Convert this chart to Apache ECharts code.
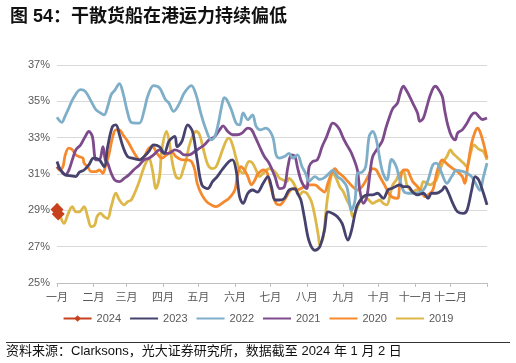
<!DOCTYPE html>
<html><head><meta charset="utf-8">
<script src="https://cdn.jsdelivr.net/npm/echarts@6/dist/echarts.min.js"></script>
<style>html,body{margin:0;padding:0;background:#fff}#c{width:516px;height:363px}</style>
</head><body><div id="c"></div>
<script>
var titleText = '图 54：干散货船在港运力持续偏低';
var sourceText = '资料来源：Clarksons，光大证券研究所，数据截至 2024 年 1 月 2 日';
var monthLabels = ['一月','二月','三月','四月','五月','六月','七月','八月','九月','十月','十一月','十二月'];
var monthDays = [31,28,31,30,31,30,31,31,30,31,30,31];
var yTicks = [25,27,29,31,33,35,37];
var seriesNames = ['2024','2023','2022','2021','2020','2019'];

var d2024 = [0,1];
var v2024 = [29.05,28.8];

var d2023 = [0,3,7,12,16,19,23,27,31,36,40,43,47,50,53,56,60,64,68,70,74,78,82,87,91,95,100,102,106,111,115,119,123,128,132,136,140,146,149,152,155,158,162,166,170,175,179,182,185,189,193,197,202,204,207,210,214,219,223,227,230,234,238,242,247,250,253,255,260,264,268,272,277,281,284,287,291,294,298,302,306,311,315,318,322,327,329,332,336,340,345,348,352,355,358,362,365];
var v2023 = [31.69,31.22,30.95,30.9,30.86,31.1,31.22,31.5,31.87,31.78,31.4,32.5,33.6,33.7,33.16,32.5,31.96,31.87,31.8,31.78,31.96,32.24,32.6,32.5,32.14,32.8,33.07,32.5,32.8,33.7,33.34,31.78,30.4,30.2,30.58,30.86,31.22,31.69,31.78,31.22,29.75,29.38,29.94,30.12,30.0,30.49,30.86,30.3,29.57,29.57,29.66,30.12,30.2,29.95,29.57,28.6,27.3,26.8,26.99,27.9,28.92,28.83,28.65,28.28,27.36,27.9,28.83,29.3,29.75,29.85,29.85,29.94,29.66,30.12,30.2,30.3,30.4,30.3,30.3,30.0,29.85,29.94,29.66,29.94,29.94,30.12,30.3,30.0,29.38,28.92,28.83,29.0,30.12,30.86,30.67,29.94,29.3];

var d2022 = [0,4,7,10,14,20,24,29,33,37,40,43,46,49,53,56,60,63,67,70,74,77,82,87,92,95,99,104,108,114,118,122,126,131,134,137,140,142,144,148,152,155,158,162,166,169,173,177,183,186,189,193,197,200,204,208,211,214,219,223,227,231,234,238,242,246,250,253,255,259,262,265,268,271,276,280,284,288,291,295,300,305,311,315,319,322,326,331,335,339,345,348,352,356,359,362,365];
var v2022 = [34.12,33.84,34.2,34.63,35.18,35.64,35.55,35.0,34.54,34.36,34.25,34.7,35.37,35.6,35.98,35.46,34.36,33.84,33.8,33.8,34.5,35.28,35.87,35.74,35.1,34.9,34.45,34.9,35.46,35.87,35.37,34.36,33.53,32.88,33.07,33.8,34.8,35.2,35.1,34.54,33.8,33.7,34.36,33.99,34.26,33.62,33.43,33.53,33.07,32.05,31.87,31.96,32.14,31.87,32.05,31.4,31.04,30.6,30.86,30.7,30.8,31.04,31.2,30.86,30.67,30.3,29.0,29.57,31.04,31.1,31.4,33.07,33.34,32.9,31.2,30.67,31.8,31.4,30.67,30.0,29.94,29.94,30.12,30.67,31.5,31.6,31.13,30.49,30.86,31.2,31.13,31.04,30.86,30.4,30.1,30.86,31.6];

var d2021 = [0,3,7,10,13,16,20,24,27,30,32,33,36,39,41,43,46,49,53,57,61,65,70,74,78,82,87,91,95,100,104,108,112,117,121,125,129,134,138,141,145,149,153,157,162,165,168,172,176,180,185,189,193,196,199,202,204,207,210,212,214,217,221,225,229,231,234,237,240,243,246,250,255,257,260,263,266,268,272,276,279,282,285,289,291,294,297,300,302,306,308,311,314,317,321,323,327,329,332,335,338,340,344,348,352,355,358,361,365];
var v2021 = [31.4,31.22,30.95,31.2,31.78,32.33,32.6,33.07,33.34,33.07,31.96,31.78,31.78,32.5,31.78,31.6,31.04,30.67,30.58,30.76,30.95,31.22,31.5,31.78,31.87,32.05,32.33,32.14,32.14,32.33,32.24,32.05,32.05,32.24,32.42,32.6,32.88,33.07,33.43,33.65,33.34,33.16,33.16,33.25,33.53,33.45,33.07,32.5,31.96,31.6,30.86,30.2,30.3,31.4,32.05,31.96,31.4,30.67,30.3,30.2,31.4,31.69,31.78,32.5,33.07,33.43,33.8,33.7,33.43,32.97,32.6,32.14,31.22,30.12,29.38,29.75,31.22,31.96,32.4,32.8,33.5,34.1,34.6,34.9,35.37,35.83,35.55,35.18,34.9,34.36,33.9,34.08,34.72,35.37,35.83,35.74,35.28,34.54,33.62,33.07,32.88,33.25,33.43,33.8,34.26,34.36,34.17,34.0,34.08];

var d2020 = [0,2,5,7,10,13,16,19,22,23,26,29,33,36,39,41,44,47,50,53,56,60,64,67,70,74,78,81,85,89,93,97,101,106,110,114,117,119,123,127,131,135,140,142,146,151,153,156,159,162,165,168,170,175,178,180,183,186,189,193,197,200,204,207,210,215,219,223,227,230,233,236,238,243,247,251,255,260,264,268,271,274,278,281,284,289,291,294,297,300,302,306,310,312,315,319,321,323,327,329,332,336,340,344,346,349,352,355,357,359,362,365];
var v2020 = [31.4,31.22,31.4,32.05,32.42,32.33,32.05,31.95,31.87,31.6,31.4,31.13,31.13,31.22,31.04,31.4,32.05,32.97,33.43,33.43,33.16,32.8,32.33,32.0,31.78,31.96,32.42,32.5,32.14,31.87,32.05,32.24,31.96,31.78,31.78,31.69,31.22,30.49,29.85,29.48,29.3,29.2,29.38,29.48,29.66,30.12,30.86,31.4,31.22,30.86,30.4,30.67,30.95,31.22,31.13,30.67,29.94,29.38,29.3,29.57,30.0,30.2,30.12,30.2,30.3,30.4,30.4,30.2,30.0,30.5,31.04,31.3,31.13,30.86,30.58,30.3,30.12,30.4,30.86,31.3,31.22,30.86,30.4,30.0,29.75,29.66,30.5,31.22,31.22,30.86,30.58,30.3,30.0,29.75,29.85,30.12,30.67,31.22,31.78,31.69,31.5,31.3,31.13,30.86,30.49,31.6,32.7,33.34,33.53,33.34,32.7,31.87];

var d2019 = [0,3,6,9,13,16,19,23,26,29,32,34,37,40,43,46,50,53,57,60,63,67,70,73,76,78,81,84,87,89,93,95,98,101,104,107,110,112,115,118,121,124,127,129,132,135,138,141,144,146,149,152,155,158,161,163,166,169,172,175,178,180,183,186,189,192,195,197,200,203,206,209,212,213,216,219,222,223,226,229,232,234,237,240,243,246,249,251,254,257,260,263,266,268,271,274,277,280,283,285,288,291,294,297,300,302,305,308,311,314,317,319,322,325,328,331,334,336,339,342,345,348,351,354,357,359,362,365];
var v2019 = [29.38,28.65,28.28,28.74,29.2,28.92,28.92,29.2,28.65,28.1,28.19,28.65,28.83,28.65,28.55,29.2,29.94,29.57,29.3,29.48,29.57,30.12,30.62,31.22,31.69,31.87,31.22,30.2,30.86,32.33,33.34,32.88,31.6,30.86,30.76,31.22,31.87,32.5,33.07,33.34,33.16,32.42,31.69,31.4,31.3,31.4,31.87,32.42,32.88,32.97,32.6,31.87,31.22,31.04,31.5,31.69,31.6,31.22,30.86,31.04,31.22,31.3,31.22,31.04,30.76,30.67,30.58,30.76,30.58,30.2,29.85,30.03,29.94,29.85,29.48,28.65,27.54,27.1,27.54,29.38,30.67,31.04,30.76,30.3,30.03,29.57,29.2,28.65,29.0,29.48,29.75,29.66,29.48,29.38,29.48,29.57,29.38,29.3,29.94,30.4,30.67,31.04,31.13,30.4,30.12,30.03,30.12,30.12,30.58,30.49,30.4,30.49,30.67,31.22,31.69,31.96,32.33,32.14,31.96,31.78,31.6,31.4,32.14,32.6,32.42,32.33,32.24,31.78];

var colors = ['#C8401E','#46426E','#7FAEC8','#7D4A8C','#F5892E','#DDB747'];
var dayLists = [d2024,d2023,d2022,d2021,d2020,d2019];
var valLists = [v2024,v2023,v2022,v2021,v2020,v2019];

var monthStarts = [0];
for (var i = 0; i < monthDays.length; i++) monthStarts.push(monthStarts[i] + monthDays[i]);

function zip(d, v) { return d.map(function (x, i) { return [x, v[i]]; }); }

var series = seriesNames.map(function (name, i) {
  var s = {
    name: name, type: 'line', data: zip(dayLists[i], valLists[i]),
    smooth: 0.35, symbol: 'none',
    lineStyle: { width: 2.8, color: colors[i] },
    itemStyle: { color: colors[i] },
    z: 10 - i
  };
  if (i === 0) {
    s.symbol = 'diamond'; s.symbolSize = 13; s.showSymbol = true; s.z = 20; s.smooth = false;
  }
  return s;
});

var legendData = seriesNames.map(function (n, i) {
  return i === 0 ? { name: n } : { name: n, itemStyle: { opacity: 0 } };
});

var cjk = '"Liberation Sans", Arial, "Noto Sans CJK SC", sans-serif';
var chart = echarts.init(document.getElementById('c'), null, { renderer: 'canvas' });
chart.setOption({
  animation: false,
  color: colors,
  textStyle: { fontFamily: cjk },
  title: { text: titleText, left: 5, top: 3, textStyle: { fontSize: 18, fontWeight: 'bold', color: '#111', fontFamily: cjk } },
  grid: { left: 57, right: 29, top: 65, bottom: 80 },
  legend: {
    data: legendData, bottom: 34, left: 'center', itemWidth: 28, itemHeight: 8, itemGap: 8,
    textStyle: { color: '#595959', fontSize: 11, fontFamily: cjk }
  },
  xAxis: {
    type: 'value', min: 0, max: 365,
    axisLine: { lineStyle: { color: '#BFBFBF' } },
    axisTick: { show: true, length: 4, lineStyle: { color: '#BFBFBF' }, customValues: monthStarts },
    axisLabel: {
      customValues: monthStarts.slice(0, 12), color: '#595959', fontSize: 11, margin: 9,
      formatter: function (v) { var k = monthStarts.indexOf(v); return k >= 0 && k < 12 ? monthLabels[k] : ''; }
    },
    splitLine: { show: false }
  },
  yAxis: {
    type: 'value', min: 25, max: 37,
    axisLine: { show: false }, axisTick: { show: false, customValues: yTicks },
    axisLabel: { customValues: yTicks, color: '#595959', fontSize: 11, margin: 7, formatter: '{value}%' },
    splitLine: { lineStyle: { color: '#D9D9D9', width: 1 } }
  },
  graphic: [
    { type: 'line', shape: { x1: 6, y1: 342.5, x2: 510, y2: 342.5 }, style: { stroke: '#333', lineWidth: 1 } },
    { type: 'text', left: 6, top: 345, style: { text: sourceText, fontSize: 13, fill: '#111', fontFamily: cjk } }
  ],
  series: series
});
</script></body></html>
